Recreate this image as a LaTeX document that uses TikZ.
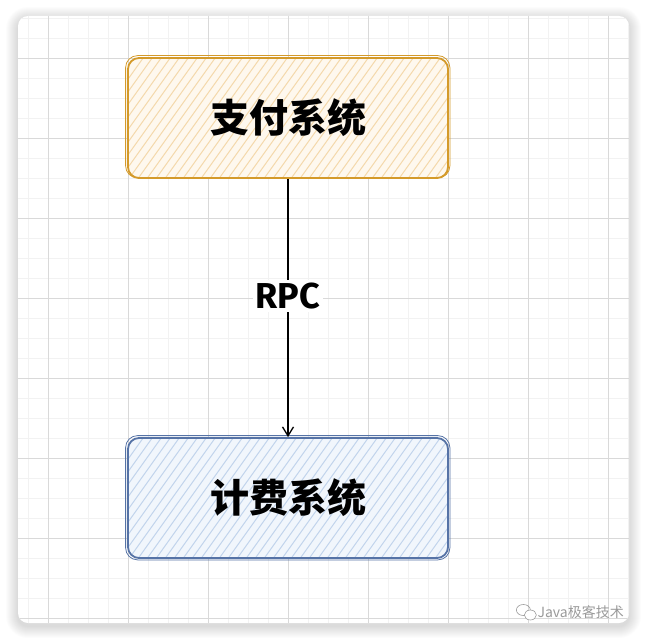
\documentclass[tikz,border=0pt]{standalone}
\usepackage{fontspec}
\newfontfamily\cjk{Noto Sans CJK SC}
\newfontfamily\rpcfont{Fira Sans}
\usetikzlibrary{arrows.meta}
\definecolor{minorgrid}{HTML}{F2F2F2}
\definecolor{majorgrid}{HTML}{D9D9D9}
\definecolor{payfill}{HTML}{FEF8EE}
\definecolor{payhatch}{HTML}{F4D9AC}
\definecolor{paydraw}{HTML}{D49A2A}
\definecolor{billfill}{HTML}{F1F6FC}
\definecolor{billhatch}{HTML}{C2D4EC}
\definecolor{billdraw}{HTML}{5673A6}
\definecolor{wmgray}{HTML}{9A9A9A}
\tikzset{
  sysbox/.style={minimum width=320pt, minimum height=120pt, rounded corners=11pt,
    line width=1.8pt, inner sep=0pt,
    font=\cjk\bfseries\fontsize{39}{39}\selectfont},
  hatchline/.style={line width=1pt},
  sketch/.style={line width=0.8pt, rounded corners=12pt},
  conn/.style={line width=1.3pt, -{Straight Barb[length=9pt,width=11pt,line width=1.3pt]}},
}
\begin{document}
\begin{tikzpicture}[x=1pt,y=-1pt]
\useasboundingbox (0,0) rectangle (648,642);
\fill[white] (0,0) rectangle (648,642);
% shadow
\foreach \i in {1,...,12}
  \fill[black, opacity=0.012, rounded corners={10+\i}]
    (18-\i, 16-\i+3) rectangle (629+\i, 623+\i+3);
% panel
\fill[white, rounded corners=10pt] (18,16) rectangle (629,623);
\begin{scope}
  \clip[rounded corners=10pt] (18,16) rectangle (629,623);
  \foreach \x in {28,48,...,628} \draw[minorgrid, line width=0.5pt] (\x,16) -- (\x,623);
  \foreach \y in {18,38,...,622} \draw[minorgrid, line width=0.5pt] (18,\y) -- (629,\y);
  \foreach \x in {48,128,...,628} \draw[majorgrid, line width=0.7pt] (\x,16) -- (\x,623);
  \foreach \y in {58,138,...,622} \draw[majorgrid, line width=0.7pt] (18,\y) -- (629,\y);
\end{scope}
% box fills and hatching
\fill[payfill, rounded corners=11pt] (128,58) rectangle (448,178);
\begin{scope}
  \clip[rounded corners=11pt] (128,58) rectangle (448,178);
  \foreach \k in {0,...,50}
    \draw[payhatch, hatchline] (128-90+\k*9,180) -- ++(90,-126);
\end{scope}
\fill[billfill, rounded corners=11pt] (128,438) rectangle (448,558);
\begin{scope}
  \clip[rounded corners=11pt] (128,438) rectangle (448,558);
  \foreach \k in {0,...,50}
    \draw[billhatch, hatchline] (128-90+\k*9,560) -- ++(90,-126);
\end{scope}
% boxes
\node[sysbox, draw=paydraw] (pay) at (288,118) {支付系统};
\draw[sketch, paydraw] ([xshift=-1.5pt,yshift=1pt]pay.south west) rectangle ([xshift=1pt,yshift=1.5pt]pay.north east);
\node[sysbox, draw=billdraw] (bill) at (288,498) {计费系统};
\draw[sketch, billdraw] ([xshift=-1.5pt,yshift=-1pt]bill.south west) rectangle ([xshift=1pt,yshift=1.5pt]bill.north east);
% connector
\draw[conn] (pay.south) -- node[fill=white, inner sep=3pt, font=\rpcfont\bfseries\fontsize{36}{36}\selectfont, pos=0.455] (rpc) {RPC} (bill.north);
% watermark
\node[anchor=east, text=wmgray, inner sep=0pt, font=\cjk\fontsize{14}{14}\selectfont] (wm) at (624,612) {Java极客技术};
\draw[wmgray, line width=0.6pt] ([xshift=-14pt,yshift=2pt]wm.west) ellipse (7pt and 5.5pt);
\draw[wmgray, line width=0.6pt, fill=white] ([xshift=-7pt,yshift=-3pt]wm.west) ellipse (6pt and 5pt);
\end{tikzpicture}
\end{document}
